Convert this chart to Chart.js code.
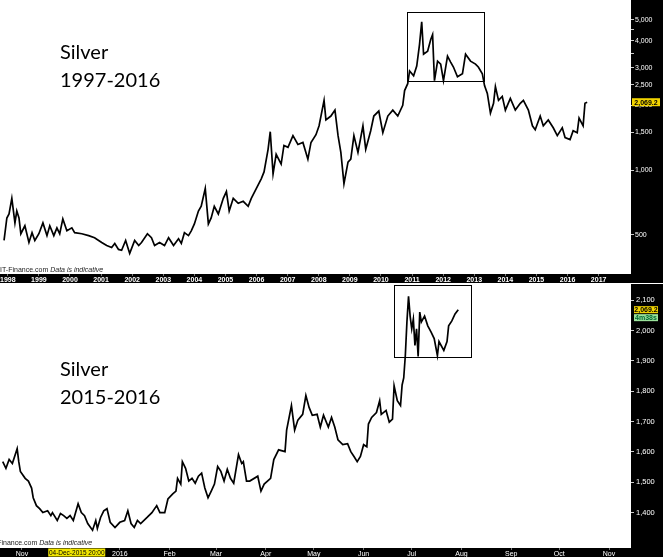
<!DOCTYPE html>
<html><head><meta charset="utf-8">
<script src="https://cdn.jsdelivr.net/npm/chart.js@4.4.0/dist/chart.umd.min.js"></script>
<style>
html,body{margin:0;padding:0;background:#fff;width:666px;height:557px;overflow:hidden;position:relative;font-family:"Liberation Sans",Arial,sans-serif}
canvas{position:absolute;left:0}
#c1{top:0}
#c2{top:284px}
.note{position:absolute;left:60px;font-family:Lato,"Open Sans",sans-serif;font-size:20px;line-height:28px;color:#000;white-space:nowrap}
.box{position:absolute;border:1px solid #000;box-sizing:border-box}
.src{position:absolute;font-size:7px;line-height:7px;color:#222;white-space:nowrap}
</style></head>
<body>
<canvas id="c1" width="663" height="283" style="width:663px;height:283px"></canvas>
<canvas id="c2" width="663" height="273" style="width:663px;height:273px"></canvas>
<div class="src" style="left:0;top:266px">IT-Finance.com <i>Data is indicative</i></div>
<div class="src" style="left:-11px;top:539px">IT-Finance.com <i>Data is indicative</i></div>
<div class="note" style="top:37px">Silver<br>1997-2016</div>
<div class="note" style="top:354px">Silver<br>2015-2016</div>
<div class="box" style="left:407px;top:12px;width:78px;height:70px"></div>
<div class="box" style="left:394px;top:285px;width:78px;height:73px"></div>
<script>
// ---- Data: Silver 1997-2016 (decimal year, price) ----
const topYears = [1997.88,1997.97,1998.04,1998.13,1998.23,1998.29,1998.36,1998.42,1998.55,1998.68,1998.78,1998.87,1999.00,1999.13,1999.26,1999.35,1999.48,1999.58,1999.67,1999.77,1999.90,2000.06,2000.15,2000.38,2000.60,2000.79,2001.02,2001.18,2001.34,2001.44,2001.56,2001.66,2001.79,2001.92,2002.08,2002.21,2002.30,2002.49,2002.62,2002.72,2002.88,2003.04,2003.17,2003.33,2003.49,2003.58,2003.68,2003.81,2003.90,2004.00,2004.13,2004.22,2004.35,2004.45,2004.54,2004.64,2004.77,2004.93,2005.03,2005.12,2005.25,2005.41,2005.57,2005.73,2005.83,2005.99,2006.15,2006.24,2006.37,2006.44,2006.53,2006.63,2006.79,2006.88,2007.01,2007.17,2007.33,2007.49,2007.65,2007.75,2007.91,2008.01,2008.17,2008.23,2008.39,2008.52,2008.62,2008.71,2008.81,2008.94,2009.03,2009.13,2009.26,2009.42,2009.51,2009.67,2009.77,2009.93,2010.06,2010.22,2010.38,2010.54,2010.70,2010.76,2010.86,2010.92,2011.05,2011.15,2011.24,2011.31,2011.37,2011.50,2011.60,2011.66,2011.72,2011.82,2011.92,2012.01,2012.14,2012.24,2012.33,2012.46,2012.62,2012.72,2012.88,2013.04,2013.13,2013.26,2013.33,2013.42,2013.52,2013.62,2013.68,2013.78,2013.90,2014.00,2014.16,2014.32,2014.48,2014.58,2014.74,2014.87,2014.96,2015.12,2015.22,2015.38,2015.54,2015.67,2015.83,2015.92,2016.08,2016.18,2016.31,2016.37,2016.50,2016.56,2016.63];
const topPrices = [470,598,624,738,567,644,598,505,550,460,511,470,505,567,495,550,495,538,505,592,521,538,511,505,495,484,460,445,436,455,427,423,470,409,470,445,460,505,484,445,460,445,484,445,479,455,511,495,521,561,644,678,820,561,598,678,624,738,794,644,738,700,715,678,738,820,910,980,1248,1508,960,1184,1066,1302,1275,1446,1316,1344,1123,1344,1461,1607,2111,1711,1784,1901,1446,1209,864,1089,1123,1446,1209,1607,1248,1524,1784,1881,1492,1784,1901,1784,2003,2345,2525,2894,2745,3050,3844,4896,3461,3572,4052,4271,2606,3215,3115,2606,3390,3181,3018,2717,2805,3461,3215,3115,3018,2805,2472,2273,1842,2046,2446,2111,2202,1901,2157,1901,2046,2111,1901,1607,1541,1784,1607,1711,1573,1446,1573,1416,1386,1524,1492,1747,1607,2046,2069.2];
const topYearTicks = [1998,1999,2000,2001,2002,2003,2004,2005,2006,2007,2008,2009,2010,2011,2012,2013,2014,2015,2016,2017];
const topPriceTicks = [500,1000,1500,2000,2500,3000,3500,4000,4500,5000];
const topUnlabeled = [3500,4500];

// ---- Data: Silver 2015-2016 (date, price) ----
const bottomDates = ['2015-10-20','2015-10-22','2015-10-24','2015-10-26','2015-10-29','2015-10-30','2015-10-31','2015-11-03','2015-11-05','2015-11-07','2015-11-08','2015-11-10','2015-11-12','2015-11-14','2015-11-17','2015-11-19','2015-11-20','2015-11-23','2015-11-25','2015-11-27','2015-11-29','2015-12-01','2015-12-03','2015-12-06','2015-12-08','2015-12-10','2015-12-12','2015-12-15','2015-12-17','2015-12-18','2015-12-20','2015-12-22','2015-12-24','2015-12-26','2015-12-29','2016-01-01','2016-01-04','2016-01-06','2016-01-08','2016-01-10','2016-01-12','2016-01-14','2016-01-18','2016-01-21','2016-01-24','2016-01-26','2016-01-29','2016-01-31','2016-02-03','2016-02-05','2016-02-06','2016-02-08','2016-02-09','2016-02-11','2016-02-13','2016-02-15','2016-02-17','2016-02-19','2016-02-21','2016-02-23','2016-02-25','2016-02-27','2016-02-29','2016-03-02','2016-03-04','2016-03-06','2016-03-08','2016-03-10','2016-03-12','2016-03-15','2016-03-17','2016-03-18','2016-03-20','2016-03-22','2016-03-27','2016-03-29','2016-03-31','2016-04-04','2016-04-06','2016-04-09','2016-04-13','2016-04-14','2016-04-17','2016-04-19','2016-04-21','2016-04-24','2016-04-26','2016-04-28','2016-04-30','2016-05-03','2016-05-05','2016-05-07','2016-05-10','2016-05-12','2016-05-14','2016-05-16','2016-05-19','2016-05-22','2016-05-24','2016-05-26','2016-05-28','2016-05-30','2016-06-01','2016-06-03','2016-06-04','2016-06-06','2016-06-09','2016-06-11','2016-06-12','2016-06-15','2016-06-17','2016-06-19','2016-06-20','2016-06-22','2016-06-24','2016-06-25','2016-06-26','2016-06-27','2016-06-28','2016-06-29','2016-06-30','2016-07-01','2016-07-02','2016-07-03','2016-07-04','2016-07-05','2016-07-06','2016-07-07','2016-07-09','2016-07-11','2016-07-13','2016-07-15','2016-07-17','2016-07-18','2016-07-21','2016-07-23','2016-07-24','2016-07-26','2016-07-28','2016-07-30'];
const bottomPrices = [1568,1546,1575,1562,1611,1568,1536,1513,1504,1481,1449,1423,1413,1400,1406,1390,1400,1374,1397,1390,1381,1390,1374,1429,1400,1390,1364,1342,1374,1348,1384,1406,1413,1368,1351,1368,1374,1406,1364,1351,1374,1364,1384,1400,1423,1400,1400,1445,1462,1471,1513,1494,1568,1546,1504,1513,1497,1520,1530,1481,1449,1471,1494,1552,1536,1504,1543,1513,1497,1591,1562,1568,1504,1504,1520,1471,1494,1513,1575,1607,1601,1672,1753,1672,1705,1724,1786,1747,1721,1724,1682,1721,1682,1714,1682,1640,1624,1627,1601,1585,1568,1585,1624,1617,1692,1714,1730,1769,1724,1737,1698,1708,1818,1769,1753,1821,1844,1918,2029,2113,2048,2006,2038,1951,2006,1915,2061,2029,2048,2016,1996,1974,1918,1964,1935,1964,2016,2032,2055,2069.2];
const bottomMonthTicks = ['2015-11-01','2015-12-01','2016-01-01','2016-02-01','2016-03-01','2016-04-01','2016-05-01','2016-06-01','2016-07-01','2016-08-01','2016-09-01','2016-10-01','2016-11-01'];
const bottomMonthLabels = ['Nov','Dec','2016','Feb','Mar','Apr','May','Jun','Jul','Aug','Sep','Oct','Nov'];
const bottomPriceTicks = [1400,1500,1600,1700,1800,1900,2000,2100];
const lastPrice = 2069.2;
const lastPriceLabel = '2,069.2';
const timerLabel = '4m38s';
const crosshairDate = '2015-12-04T20:00';
const crosshairLabel = '04-Dec-2015 20:00';

// ---- helpers ----
const BASE = Date.UTC(2015,10,1);
function dayNum(s){
  const [d,t] = s.split('T');
  const [Y,M,D] = d.split('-').map(Number);
  let ms = Date.UTC(Y,M-1,D);
  if(t){ const [h,m]=t.split(':').map(Number); ms += (h*60+m)*60000; }
  return (ms-BASE)/86400000;
}
const fmt = v => Number(v).toLocaleString('en-US');
const FONT = '"Liberation Sans", Arial, sans-serif';

const stripPlugin = {
  id:'strip',
  beforeDraw(chart){
    const {ctx, chartArea} = chart; const x = chart.scales.x;
    ctx.save(); ctx.fillStyle='#000';
    ctx.fillRect(0, x.top, chartArea.right, chart.height - x.top);
    ctx.fillRect(chartArea.right, 0, chart.width - chartArea.right, chart.height);
    ctx.restore();
  }
};
function badge(ctx, x, yc, w, h, bg, fg, text, font){
  ctx.fillStyle = bg; ctx.fillRect(x, yc - h/2, w, h);
  ctx.fillStyle = fg; ctx.font = font || ('bold 7px '+FONT);
  ctx.textAlign='center'; ctx.textBaseline='middle';
  ctx.fillText(text, x + w/2, yc + 0.5);
}

Chart.defaults.font.family = FONT;
Chart.defaults.animation = false;

// ---- Top chart ----
new Chart(document.getElementById('c1'), {
  type:'line',
  data:{ datasets:[{ data: topYears.map((t,i)=>({x:t,y:topPrices[i]})), borderColor:'#000', borderWidth:1.7, pointRadius:0, tension:0 }]},
  options:{
    responsive:false, animation:false, parsing:false,
    layout:{padding:0},
    plugins:{legend:{display:false}, tooltip:{enabled:false}},
    scales:{
      x:{ type:'linear', min:1997.814, max:2018.04,
          afterBuildTicks:s=>{ s.ticks = topYearTicks.map(v=>({value:v})); },
          afterFit:s=>{ s.height = 9; },
          ticks:{ autoSkip:false, maxRotation:0, minRotation:0, padding:0, color:'#fff', font:{size:7, weight:'bold'}, callback:v=>String(v) },
          grid:{ drawOnChartArea:false, tickLength:2, tickColor:'#777' }, border:{display:false} },
      y:{ type:'logarithmic', position:'right', min:328, max:5855,
          afterBuildTicks:s=>{ s.ticks = topPriceTicks.map(v=>({value:v})); },
          afterFit:s=>{ s.width = 32; },
          ticks:{ autoSkip:false, padding:1, color:'#fff', font:{size:7}, callback:v=> topUnlabeled.includes(v)?'':fmt(v) },
          grid:{ drawOnChartArea:false, tickLength:3, tickColor:'#ccc' }, border:{display:false} }
    }
  },
  plugins:[stripPlugin, {
    id:'last', afterDraw(chart){
      const ctx = chart.ctx, y = chart.scales.y;
      ctx.save();
      badge(ctx, chart.chartArea.right+1, y.getPixelForValue(lastPrice), 28, 8, '#f2d400', '#000', lastPriceLabel);
      ctx.restore();
    }
  }]
});

// ---- Bottom chart ----
new Chart(document.getElementById('c2'), {
  type:'line',
  data:{ datasets:[{ data: bottomDates.map((d,i)=>({x:dayNum(d),y:bottomPrices[i]})), borderColor:'#000', borderWidth:1.7, pointRadius:0, tension:0 }]},
  options:{
    responsive:false, animation:false, parsing:false,
    layout:{padding:{top:2,left:0,right:0,bottom:0}},
    plugins:{legend:{display:false}, tooltip:{enabled:false}},
    scales:{
      x:{ type:'linear', min:-13.7, max:379.7,
          afterBuildTicks:s=>{ s.ticks = bottomMonthTicks.map(d=>({value:dayNum(d)})); },
          afterFit:s=>{ s.height = 9; },
          ticks:{ autoSkip:false, maxRotation:0, minRotation:0, padding:0, color:'#fff', font:{size:7}, callback:(v,i)=>bottomMonthLabels[i] },
          grid:{ drawOnChartArea:false, tickLength:2, tickColor:'#777' }, border:{display:false} },
      y:{ type:'linear', position:'right', min:1283.3, max:2132.4,
          afterBuildTicks:s=>{ s.ticks = bottomPriceTicks.map(v=>({value:v})); },
          afterFit:s=>{ s.width = 32; },
          ticks:{ autoSkip:false, padding:2, color:'#fff', font:{size:7.5}, callback:v=>fmt(v) },
          grid:{ drawOnChartArea:false, tickLength:3, tickColor:'#ccc' }, border:{display:false} }
    }
  },
  plugins:[stripPlugin, {
    id:'last', afterDraw(chart){
      const ctx = chart.ctx, y = chart.scales.y, x = chart.scales.x;
      ctx.save();
      const py = y.getPixelForValue(lastPrice);
      badge(ctx, chart.chartArea.right+3, py, 24, 7, '#f2d400', '#000', lastPriceLabel);
      badge(ctx, chart.chartArea.right+3, py+8, 24, 7, '#9be39b', '#063', timerLabel);
      const cx = x.getPixelForValue(dayNum(crosshairDate));
      badge(ctx, cx-28, x.top+4.5, 57, 8, '#f2e600', '#000', crosshairLabel, '6.5px '+FONT);
      ctx.restore();
    }
  }]
});
</script>
</body></html>
